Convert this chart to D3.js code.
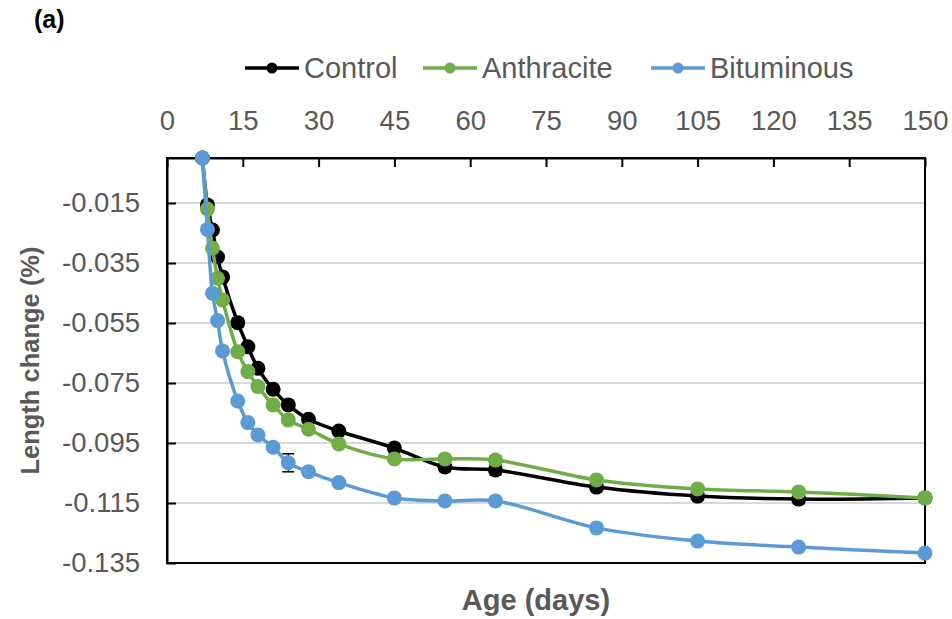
<!DOCTYPE html>
<html>
<head>
<meta charset="utf-8">
<script src="https://cdn.jsdelivr.net/npm/d3@7"></script>
<style>
  body { margin: 0; background: #fff; }
  svg { font-family: "Liberation Sans", Arial, sans-serif; }
</style>
</head>
<body>
<svg width="952" height="619"></svg>
<script>
/// chart data
var days = [7, 8, 9, 10, 11, 14, 16, 18, 21, 24, 28, 34, 45, 55, 65, 85, 105, 125, 150];
var control = [0, -0.0157, -0.0240, -0.0330, -0.0397, -0.0549, -0.0629, -0.0701, -0.0771, -0.0823, -0.0871, -0.0910,
               -0.0967, -0.1030, -0.1040, -0.1097, -0.1127, -0.1137, -0.1133];
var anthracite = [0, -0.0170, -0.0301, -0.0401, -0.0473, -0.0646, -0.0712, -0.0762, -0.0823, -0.0873, -0.0904, -0.0953,
                  -0.1003, -0.1003, -0.1007, -0.1073, -0.1103, -0.1113, -0.1133];
var bituminous = [0, -0.0238, -0.0451, -0.0542, -0.0643, -0.0810, -0.0882, -0.0923, -0.0964, -0.1016, -0.1046, -0.1082,
                  -0.1133, -0.1143, -0.1143, -0.1233, -0.1277, -0.1297, -0.1317];
// standard deviations (error bars)
var control_err = [0, 0.0015, 0.0008, 0.0008, 0.0008, 0.0015, 0.0008, 0.0008, 0.0008, 0.0008, 0.0008, 0.0008,
                   0.0010, 0.0015, 0.0016, 0.0013, 0.0013, 0.0015, 0.0013];
var anthracite_err = [0, 0.0008, 0.0008, 0.0008, 0.0008, 0.0008, 0.0008, 0.0008, 0.0008, 0.0008, 0.0008, 0.0008,
                      0.0008, 0.0008, 0.0013, 0.0008, 0.0008, 0.0008, 0.0008];
var bituminous_err = [0, 0.0008, 0.0008, 0.0008, 0.0008, 0.0008, 0.0008, 0.0008, 0.0008, 0.0030, 0.0008, 0.0008,
                      0.0008, 0.0008, 0.0008, 0.0008, 0.0008, 0.0008, 0.0008];
var series_names = ["Control", "Anthracite", "Bituminous"];
var series_colors = ["#000000", "#70ad47", "#5b9bd5"];
var x_ticks = [0, 15, 30, 45, 60, 75, 90, 105, 120, 135, 150];
var y_ticks = [-0.015, -0.035, -0.055, -0.075, -0.095, -0.115, -0.135];

var series = [
  { name: series_names[0], color: series_colors[0], values: control, err: control_err },
  { name: series_names[1], color: series_colors[1], values: anthracite, err: anthracite_err },
  { name: series_names[2], color: series_colors[2], values: bituminous, err: bituminous_err }
];

var svg = d3.select("svg");
// plot box (note: "top" is taken by window.top, hence the prefix)
var plot_left = 167, plot_right = 925, plot_top = 158, plot_bottom = 563;
var text_grey = "#595959";

var x = d3.scaleLinear().domain([0, 150]).range([plot_left, plot_right]);
var y = d3.scaleLinear().domain([0, -0.135]).range([plot_top, plot_bottom]);

// gridlines
svg.append("g")
  .selectAll("line")
    .data(y_ticks.slice(0, -1))
    .enter()
      .append("line")
        .attr("x1", plot_left).attr("x2", plot_right)
        .attr("y1", function(d) { return y(d); })
        .attr("y2", function(d) { return y(d); })
        .attr("stroke", "#d9d9d9")
        .attr("stroke-width", 2);

// frame
svg.append("rect")
  .attr("x", plot_left).attr("y", plot_top)
  .attr("width", plot_right - plot_left).attr("height", plot_bottom - plot_top)
  .attr("fill", "none")
  .attr("stroke", "#000")
  .attr("stroke-width", 2);

// top x axis, ticks pointing into the plot
var x_axis = svg.append("g")
  .attr("transform", "translate(0," + plot_top + ")")
  .call(d3.axisTop(x).tickValues(x_ticks).tickSizeInner(-9).tickSizeOuter(0).tickPadding(28));
x_axis.select(".domain").attr("stroke", "#000").attr("stroke-width", 2);
x_axis.selectAll(".tick line").attr("stroke", "#000").attr("stroke-width", 2);
x_axis.selectAll(".tick text")
  .attr("fill", text_grey)
  .attr("font-size", 27.5)
  .attr("font-family", "Liberation Sans, Arial, sans-serif");

// left y axis
var y_axis = svg.append("g")
  .attr("transform", "translate(" + plot_left + ",0)")
  .call(d3.axisLeft(y).tickValues(y_ticks).tickSizeInner(-9).tickSizeOuter(0).tickPadding(27));
y_axis.select(".domain").attr("stroke", "#000").attr("stroke-width", 2);
y_axis.selectAll(".tick line").attr("stroke", "#000").attr("stroke-width", 2);
y_axis.selectAll(".tick text")
  .attr("fill", text_grey)
  .attr("font-size", 27.5)
  .attr("font-family", "Liberation Sans, Arial, sans-serif")
  .text(function(d) { return "-" + d3.format(".3f")(-d); });

// axis titles
svg.append("text")
  .attr("transform", "translate(39," + ((plot_top + plot_bottom) / 2) + ") rotate(-90)")
  .attr("text-anchor", "middle")
  .attr("font-size", 25.5)
  .attr("font-weight", "bold")
  .attr("fill", text_grey)
  .text("Length change (%)");

svg.append("text")
  .attr("x", 536)
  .attr("y", 610)
  .attr("text-anchor", "middle")
  .attr("font-size", 29)
  .attr("font-weight", "bold")
  .attr("fill", text_grey)
  .text("Age (days)");

svg.append("text")
  .attr("x", 34).attr("y", 28)
  .attr("font-size", 25)
  .attr("font-weight", "bold")
  .attr("fill", "#000")
  .text("(a)");

// smoothed lines, like the spreadsheet's "smoothed line" option
var line = d3.line()
  .x(function(d, i) { return x(days[i]); })
  .y(function(d) { return y(d); })
  .curve(d3.curveCatmullRom.alpha(0.5));

var groups = svg.append("g")
  .selectAll("g.series")
    .data(series)
    .enter()
      .append("g")
        .attr("class", "series");

groups.append("path")
  .attr("d", function(s) { return line(s.values); })
  .attr("fill", "none")
  .attr("stroke", function(s) { return s.color; })
  .attr("stroke-width", 3.5);

// error bars drawn before markers
groups.each(function(s) {
  var g = d3.select(this);
  var pts = s.values.map(function(v, i) { return { x: days[i], v: v, e: s.err[i] }; });
  var bars = g.selectAll("g.err").data(pts).enter().append("g").attr("class", "err");
  bars.append("line")
    .attr("x1", function(d) { return x(d.x); }).attr("x2", function(d) { return x(d.x); })
    .attr("y1", function(d) { return y(d.v + d.e); }).attr("y2", function(d) { return y(d.v - d.e); })
    .attr("stroke", "#000").attr("stroke-width", 1.5);
  bars.each(function(d) {
    d3.select(this)
      .selectAll("line.cap")
        .data([d.v + d.e, d.v - d.e])
        .enter()
          .append("line")
            .attr("class", "cap")
            .attr("x1", x(d.x) - 6).attr("x2", x(d.x) + 6)
            .attr("y1", function(v) { return y(v); })
            .attr("y2", function(v) { return y(v); })
            .attr("stroke", "#000").attr("stroke-width", 1.5);
  });
});

groups.each(function(s) {
  d3.select(this)
    .selectAll("circle")
      .data(s.values)
      .enter()
        .append("circle")
          .attr("cx", function(d, i) { return x(days[i]); })
          .attr("cy", function(d) { return y(d); })
          .attr("r", 7.5)
          .attr("fill", s.color);
});

// legend
var legend_x = [245, 423, 651];
var legend = svg.append("g")
  .selectAll("g")
    .data(series)
    .enter()
      .append("g")
        .attr("transform", function(s, i) { return "translate(" + legend_x[i] + ",68)"; });
legend.append("line")
  .attr("x1", 0).attr("x2", 54)
  .attr("stroke", function(s) { return s.color; })
  .attr("stroke-width", 3.5);
legend.append("circle")
  .attr("cx", 27).attr("r", 5.5)
  .attr("fill", function(s) { return s.color; });
legend.append("text")
  .attr("x", 59).attr("dy", "0.36em")
  .attr("font-size", 29)
  .attr("fill", text_grey)
  .text(function(s) { return s.name; });
</script>
</body>
</html>
